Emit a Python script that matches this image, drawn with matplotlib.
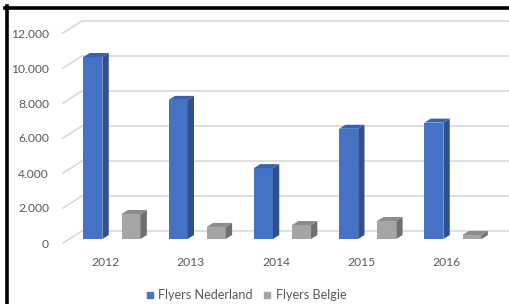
import matplotlib
matplotlib.use("Agg")
import matplotlib.pyplot as plt
from matplotlib.patches import Polygon
from matplotlib.lines import Line2D

# data
jaren = ["2012", "2013", "2014", "2015", "2016"]
flyers_nederland = [10400, 7950, 4050, 6300, 6650]
flyers_belgie = [1430, 690, 800, 1030, 230]
y_ticks = [0, 2000, 4000, 6000, 8000, 10000, 12000]
y_labels = ["0", "2.000", "4.000", "6.000", "8.000", "10.000", "12.000"]

plt.rcParams['font.family'] = ['Lato', 'DejaVu Sans']
tekst_kleur = '#595959'
grid_kleur = '#D9D9D9'

fig = plt.figure(figsize=(5.1, 3.04), dpi=100)
ax = fig.add_axes([63/510, 61/304, 426.25/510, 210/304])
ax.set_xlim(-0.5, len(jaren) - 0.5)
ax.set_ylim(0, 12000)

# diepte van de 3D-vloer (in data-eenheden)
dx = 0.2229
dy = 685.7

# achterwand rasterlijnen + schuine lijnen links
for t in y_ticks:
    ax.plot([-0.5 + dx, len(jaren) - 0.5 + dx], [t + dy, t + dy], color=grid_kleur,
            lw=1.2, zorder=1, clip_on=False)
    ax.plot([-0.5, -0.5 + dx], [t, t + dy], color=grid_kleur, lw=1.2, zorder=1, clip_on=False)


def kolom(x0, w, v, voor, zij, top):
    """Teken een 3D kolom halverwege de diepte"""
    fx = x0 + dx / 3
    fy = dy / 3
    ax.bar(fx, v, w, bottom=fy, align='edge', color=voor, zorder=3, clip_on=False)
    x1 = fx + w
    ax.add_patch(Polygon([(x1, fy), (x1 + dx / 3, 2 * fy), (x1 + dx / 3, v + 2 * fy), (x1, v + fy)],
                         closed=True, color=zij, zorder=3, clip_on=False, lw=0))
    ax.add_patch(Polygon([(fx, v + fy), (x1, v + fy), (x1 + dx / 3, v + 2 * fy), (fx + dx / 3, v + 2 * fy)],
                         closed=True, color=top, zorder=3, clip_on=False, lw=0))


w = 0.223
for i in range(len(jaren)):
    kolom(i - 0.335, w, flyers_nederland[i], '#4472C4', '#2E5090', '#3961AC')
    kolom(i + 0.112, w, flyers_belgie[i], '#A5A5A5', '#6F6F6F', '#8C8C8C')

ax.set_xticks(range(len(jaren)))
ax.set_xticklabels(jaren)
ax.set_yticks(y_ticks)
ax.set_yticklabels(y_labels)
ax.tick_params(axis='both', length=0, labelsize=8.7, labelcolor=tekst_kleur)
ax.tick_params(axis='y', pad=10)
ax.tick_params(axis='x', pad=10)
for s in ax.spines.values():
    s.set_visible(False)
ax.set_facecolor('none')

# legenda
handles = [Line2D([], [], ls='none', marker='s', ms=4.5, color='#4472C4'),
           Line2D([], [], ls='none', marker='s', ms=4.5, color='#A5A5A5')]
fig.legend(handles, ['Flyers Nederland', 'Flyers Belgie'], loc='center',
           bbox_to_anchor=(246/510, 1 - 295/304), ncol=2, frameon=False,
           fontsize=9.1, labelcolor=tekst_kleur, handlelength=0.6,
           handletextpad=0.4, columnspacing=0.8, borderpad=0)

# zwarte rand boven en links
fig.add_artist(Line2D([5/510, 1], [1 - 8/304, 1 - 8/304], color='black', lw=2.6))
fig.add_artist(Line2D([7.5/510, 7.5/510], [0, 1 - 6/304], color='black', lw=2.6))

fig.savefig('out.png', dpi=100)
